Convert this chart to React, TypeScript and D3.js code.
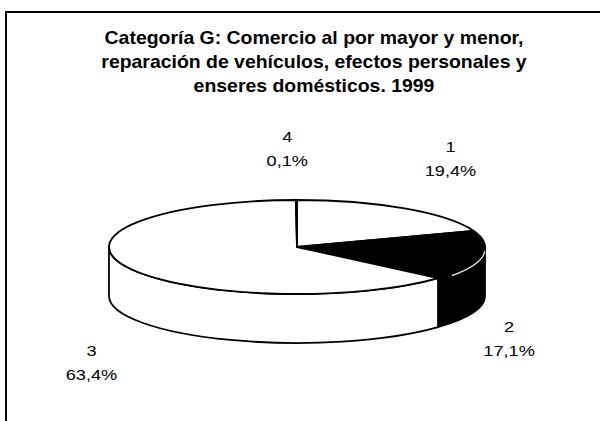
import * as d3 from "d3";
import { useEffect, useRef } from "react";

const titleLines = [
  "Categoría G: Comercio al por mayor y menor,",
  "reparación de vehículos, efectos personales y",
  "enseres domésticos. 1999",
];
const categories = ["1", "2", "3", "4"];
const shares = [19.4, 17.1, 63.4, 0.1];
const sliceFills = ["#fff", "#000", "#fff", "#fff"];
// nudges for the data labels, relative to the outer ellipse anchor
const labelNudge: [number, number][] = [
  [23, -7],
  [-12, 26],
  [2, 28],
  [-9, 0],
];

const W = 600;
const H = 421;

const draw = (el: SVGSVGElement) => {
  const svg = d3.select(el);
  svg.selectAll("*").remove();

  const cx = 297;
  const cy = 247;
  const rx = 188;
  const ry = 47;
  const depth = 49;
  const font = "'Liberation Sans', Arial, sans-serif";

  // frame (only top and left edge survive in the scan)
  svg
    .append("path")
    .attr("d", `M6,${H} L6,12 L${W},12`)
    .attr("fill", "none")
    .attr("stroke", "#000")
    .attr("stroke-width", 2);

  // the scanned type is a bit wider than the font, hence the x-stretch
  svg
    .append("g")
    .selectAll("text")
    .data(titleLines)
    .join("text")
    .attr("transform", (_, i) => `translate(314,${44 + i * 24}) scale(1.08,1)`)
    .attr("text-anchor", "middle")
    .attr("font-family", font)
    .attr("font-weight", "bold")
    .attr("font-size", 18)
    .text((d) => d);

  const arcs = d3
    .pie<number>()
    .sort(null)
    .value((d) => d)(shares);

  // t measured clockwise from 12 o'clock
  const pt = (t: number, dy = 0, sx = rx, sy = ry): [number, number] => [
    cx + sx * Math.sin(t),
    cy - sy * Math.cos(t) + dy,
  ];
  const fmt = (p: [number, number]) => `${p[0].toFixed(2)},${p[1].toFixed(2)}`;

  const g = svg.append("g");

  // side walls: only the front half (pi/2 .. 3pi/2) is visible
  arcs.forEach((a, i) => {
    const s0 = Math.max(a.startAngle, Math.PI / 2);
    const s1 = Math.min(a.endAngle, (3 * Math.PI) / 2);
    if (s1 <= s0) return;
    const large = s1 - s0 > Math.PI ? 1 : 0;
    const d =
      `M${fmt(pt(s0))} A${rx},${ry} 0 ${large} 1 ${fmt(pt(s1))}` +
      ` L${fmt(pt(s1, depth))} A${rx},${ry} 0 ${large} 0 ${fmt(pt(s0, depth))} Z`;
    g.append("path")
      .attr("d", d)
      .attr("fill", sliceFills[i])
      .attr("stroke", "#000")
      .attr("stroke-width", 1.8)
      .attr("stroke-linejoin", "round");
  });

  // top faces
  arcs.forEach((a, i) => {
    const large = a.endAngle - a.startAngle > Math.PI ? 1 : 0;
    const d =
      `M${cx},${cy} L${fmt(pt(a.startAngle))}` +
      ` A${rx},${ry} 0 ${large} 1 ${fmt(pt(a.endAngle))} Z`;
    g.append("path")
      .attr("d", d)
      .attr("fill", sliceFills[i])
      .attr("stroke", "#000")
      .attr("stroke-width", 1.8)
      .attr("stroke-linejoin", "round");
  });

  // light rim between the dark top and dark wall
  arcs.forEach((a, i) => {
    if (sliceFills[i] !== "#000") return;
    const s0 = Math.max(a.startAngle, Math.PI / 2 + 0.05);
    const s1 = Math.min(a.endAngle, (3 * Math.PI) / 2) - 0.12;
    if (s1 <= s0) return;
    g.append("path")
      .attr("d", `M${fmt(pt(s0, 2))} A${rx},${ry} 0 0 1 ${fmt(pt(s1, 2))}`)
      .attr("fill", "none")
      .attr("stroke", "#fff")
      .attr("stroke-width", 1.2);
  });

  // data labels
  const lab = svg.append("g").attr("font-family", font).attr("font-size", 14);
  arcs.forEach((a, i) => {
    const mid = (a.startAngle + a.endAngle) / 2;
    const base = pt(mid, Math.cos(mid) < 0 ? depth : 0, rx + 40, ry + 50);
    const x = base[0] + labelNudge[i][0];
    const y = base[1] + labelNudge[i][1];
    const pct = `${shares[i].toFixed(1).replace(".", ",")}%`;
    [categories[i], pct].forEach((t, k) => {
      lab
        .append("text")
        .attr("transform", `translate(${x},${y - 8 + k * 24}) scale(1.3,1)`)
        .attr("text-anchor", "middle")
        .text(t);
    });
  });
};

export default function App() {
  const ref = useRef<SVGSVGElement>(null);
  useEffect(() => {
    if (!ref.current) return;
    draw(ref.current);
  }, []);
  return (
    <svg
      ref={ref}
      width={W}
      height={H}
      style={{ position: "absolute", left: 0, top: 0, background: "#fff" }}
    />
  );
}
